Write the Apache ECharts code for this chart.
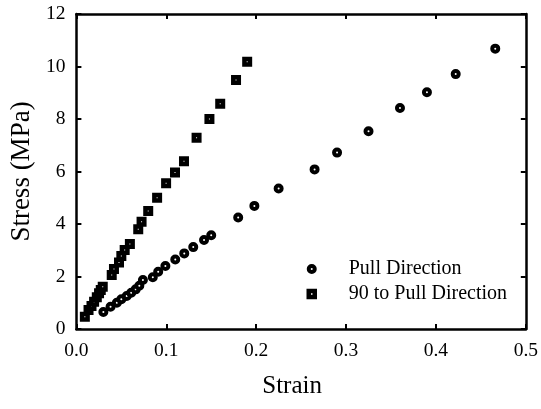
<!DOCTYPE html>
<html><head><meta charset="utf-8">
<script src="https://cdn.jsdelivr.net/npm/echarts@6/dist/echarts.min.js"></script>
<style>html,body{margin:0;padding:0;background:#fff}#c{width:541px;height:409px}</style>
</head><body><div id="c"></div>
<script>
var pullStrain = [0.030,0.038,0.045,0.050,0.056,0.061,0.066,0.070,0.074,0.085,0.091,0.099,0.110,0.120,0.130,0.142,0.150,0.180,0.198,0.225,0.265,0.290,0.325,0.360,0.390,0.422,0.466];
var pullStress = [0.65,0.85,1.00,1.13,1.26,1.38,1.51,1.65,1.87,1.97,2.18,2.40,2.65,2.88,3.12,3.39,3.57,4.25,4.69,5.35,6.08,6.72,7.53,8.42,9.02,9.71,10.68];
var perpStrain = [0.0094,0.0135,0.0168,0.0197,0.0227,0.0252,0.0271,0.0293,0.0393,0.0418,0.0474,0.050,0.0537,0.0595,0.0688,0.0725,0.0799,0.0898,0.0998,0.1097,0.1197,0.1337,0.148,0.160,0.1776,0.190];
var perpStress = [0.47,0.72,0.88,1.04,1.21,1.36,1.49,1.61,2.06,2.29,2.53,2.78,3.01,3.24,3.80,4.09,4.50,5.00,5.55,5.96,6.39,7.29,8.00,8.58,9.49,10.18];
var seriesNames = ['Pull Direction', '90 to Pull Direction'];
var xTitle = 'Strain', yTitle = 'Stress (MPa)';

function zip(a, b) { return a.map(function (v, i) { return [v, b[i]]; }); }
var FONT = 'Liberation Serif';
var lineStyle = { color: '#000', width: 2.5 };
function axisBase(extra) {
  return Object.assign({
    axisLine: { show: true, onZero: false, lineStyle: lineStyle },
    axisTick: { show: true, inside: true, length: 5, lineStyle: { color: '#000', width: 2 } },
    splitLine: { show: false }
  }, extra);
}
var circStyle = { color: '#fff', borderColor: '#000', borderWidth: 4, opacity: 1 };
var rectStyle = { color: '#fff', borderColor: '#000', borderWidth: 4.5, opacity: 1 };
var chart = echarts.init(document.getElementById('c'));
chart.setOption({
  animation: false,
  backgroundColor: '#fff',
  grid: { left: 75.5, right: 13.5, top: 14, bottom: 80, containLabel: false },
  legend: {
    orient: 'vertical', left: 306.5, top: 259, padding: 0, itemWidth: 6, itemHeight: 6, itemGap: 5,
    textStyle: { fontFamily: FONT, fontSize: 20, lineHeight: 20, color: '#000', padding: [0, 0, 0, 29] },
    data: [
      { name: seriesNames[0], icon: 'circle', itemStyle: circStyle },
      { name: seriesNames[1], icon: 'rect', itemStyle: rectStyle }
    ]
  },
  xAxis: [
    axisBase({ type: 'value', position: 'bottom', min: 0, max: 0.5, interval: 0.1,
      name: xTitle, nameLocation: 'middle', nameGap: 45,
      nameTextStyle: { fontFamily: FONT, fontSize: 25, color: '#000', padding: [0, 18, 0, 0] },
      axisLabel: { fontFamily: FONT, fontSize: 19.5, color: '#000', margin: 12, formatter: function (v) { return v.toFixed(1); } } }),
    axisBase({ type: 'value', position: 'top', min: 0, max: 0.5, interval: 0.1, axisLabel: { show: false } })
  ],
  yAxis: [
    axisBase({ type: 'value', position: 'left', min: 0, max: 12, interval: 2,
      name: yTitle, nameLocation: 'middle', nameGap: 40, nameRotate: 90,
      nameTextStyle: { fontFamily: FONT, fontSize: 27, color: '#000' },
      axisLabel: { fontFamily: FONT, fontSize: 19.5, color: '#000', margin: 11 } }),
    axisBase({ type: 'value', position: 'right', min: 0, max: 12, interval: 2, axisLabel: { show: false } })
  ],
  series: [
    { name: seriesNames[0], type: 'scatter', symbol: 'circle', symbolSize: 6,
      itemStyle: circStyle, data: zip(pullStrain, pullStress) },
    { name: seriesNames[1], type: 'scatter', symbol: 'rect', symbolSize: 5.5,
      itemStyle: rectStyle, data: zip(perpStrain, perpStress) }
  ]
});
</script></body></html>
